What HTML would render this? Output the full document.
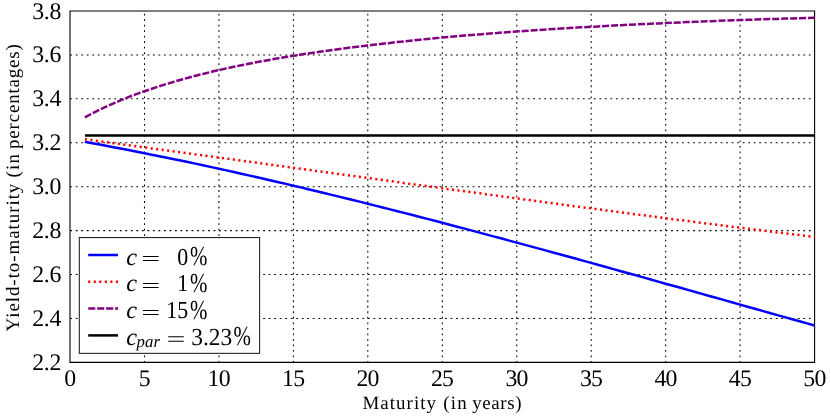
<!DOCTYPE html>
<html><head><meta charset="utf-8"><title>Yield-to-maturity</title>
<style>
html,body{margin:0;padding:0;background:#fff;}
#w{width:831px;height:417px;will-change:transform;}
svg{display:block;text-rendering:geometricPrecision;font-family:"Liberation Serif",serif;}
.t text{font-size:23.8px;letter-spacing:-0.3px;fill:#000;}
.g line{stroke:#000;stroke-width:1.05;stroke-dasharray:1.8 3.712;stroke-dashoffset:0.4;}
.g line.h{stroke-dashoffset:-0.25;}
.lg text{fill:#000;}
</style></head><body><div id="w">
<svg width="831" height="417" viewBox="0 0 831 417">
<rect width="831" height="417" fill="#fff"/>
<g class="g"><line x1="144.5" y1="362.36" x2="144.5" y2="11.0"/><line x1="218.9" y1="362.36" x2="218.9" y2="11.0"/><line x1="293.4" y1="362.36" x2="293.4" y2="11.0"/><line x1="367.8" y1="362.36" x2="367.8" y2="11.0"/><line x1="442.3" y1="362.36" x2="442.3" y2="11.0"/><line x1="516.8" y1="362.36" x2="516.8" y2="11.0"/><line x1="591.2" y1="362.36" x2="591.2" y2="11.0"/><line x1="665.7" y1="362.36" x2="665.7" y2="11.0"/><line x1="740.1" y1="362.36" x2="740.1" y2="11.0"/><line class="h" x1="70.0" y1="318.4" x2="814.6" y2="318.4"/><line class="h" x1="70.0" y1="274.5" x2="814.6" y2="274.5"/><line class="h" x1="70.0" y1="230.6" x2="814.6" y2="230.6"/><line class="h" x1="70.0" y1="186.7" x2="814.6" y2="186.7"/><line class="h" x1="70.0" y1="142.8" x2="814.6" y2="142.8"/><line class="h" x1="70.0" y1="98.8" x2="814.6" y2="98.8"/><line class="h" x1="70.0" y1="54.9" x2="814.6" y2="54.9"/></g>
<g fill="none">
<path d="M70.0,362.36 L70.0,11.0 L814.6,11.0 L814.6,362.36 Z" stroke="#000" stroke-width="1.1" stroke-linejoin="miter"/>
</g>
<g fill="none" stroke-width="2.5">
<path d="M84.9,141.8 L92.3,143.2 L99.8,144.5 L107.2,145.9 L114.7,147.4 L122.1,148.8 L129.6,150.2 L137.0,151.7 L144.5,153.2 L151.9,154.7 L159.3,156.2 L166.8,157.7 L174.2,159.2 L181.7,160.8 L189.1,162.3 L196.6,163.9 L204.0,165.5 L211.5,167.1 L218.9,168.7 L226.4,170.4 L233.8,172.0 L241.2,173.7 L248.7,175.4 L256.1,177.0 L263.6,178.7 L271.0,180.5 L278.5,182.2 L285.9,183.9 L293.4,185.7 L300.8,187.4 L308.2,189.2 L315.7,191.0 L323.1,192.8 L330.6,194.6 L338.0,196.4 L345.5,198.2 L352.9,200.0 L360.4,201.9 L367.8,203.7 L375.3,205.6 L382.7,207.5 L390.1,209.4 L397.6,211.2 L405.0,213.1 L412.5,215.0 L419.9,217.0 L427.4,218.9 L434.8,220.8 L442.3,222.8 L449.7,224.7 L457.1,226.7 L464.6,228.6 L472.0,230.6 L479.5,232.6 L486.9,234.6 L494.4,236.6 L501.8,238.5 L509.3,240.6 L516.7,242.6 L524.1,244.6 L531.6,246.6 L539.0,248.6 L546.5,250.6 L553.9,252.7 L561.4,254.7 L568.8,256.8 L576.3,258.8 L583.7,260.9 L591.2,262.9 L598.6,265.0 L606.0,267.0 L613.5,269.1 L620.9,271.2 L628.4,273.3 L635.8,275.3 L643.3,277.4 L650.7,279.5 L658.2,281.6 L665.6,283.7 L673.0,285.8 L680.5,287.8 L687.9,289.9 L695.4,292.0 L702.8,294.1 L710.3,296.2 L717.7,298.3 L725.2,300.4 L732.6,302.5 L740.1,304.6 L747.5,306.7 L754.9,308.8 L762.4,310.9 L769.8,313.0 L777.3,315.1 L784.7,317.1 L792.2,319.2 L799.6,321.3 L807.1,323.4 L814.5,325.5" stroke="#0000ff"/>
<path d="M84.9,139.3 L92.3,140.3 L99.8,141.3 L107.2,142.3 L114.7,143.3 L122.1,144.3 L129.6,145.3 L137.0,146.4 L144.5,147.4 L151.9,148.4 L159.3,149.4 L166.8,150.4 L174.2,151.4 L181.7,152.4 L189.1,153.5 L196.6,154.5 L204.0,155.5 L211.5,156.5 L218.9,157.5 L226.4,158.6 L233.8,159.6 L241.2,160.6 L248.7,161.6 L256.1,162.6 L263.6,163.7 L271.0,164.7 L278.5,165.7 L285.9,166.7 L293.4,167.8 L300.8,168.8 L308.2,169.8 L315.7,170.9 L323.1,171.9 L330.6,172.9 L338.0,173.9 L345.5,175.0 L352.9,176.0 L360.4,177.0 L367.8,178.0 L375.3,179.1 L382.7,180.1 L390.1,181.1 L397.6,182.1 L405.0,183.2 L412.5,184.2 L419.9,185.2 L427.4,186.2 L434.8,187.2 L442.3,188.3 L449.7,189.3 L457.1,190.3 L464.6,191.3 L472.0,192.3 L479.5,193.3 L486.9,194.4 L494.4,195.4 L501.8,196.4 L509.3,197.4 L516.7,198.4 L524.1,199.4 L531.6,200.4 L539.0,201.4 L546.5,202.4 L553.9,203.4 L561.4,204.4 L568.8,205.4 L576.3,206.4 L583.7,207.4 L591.2,208.4 L598.6,209.4 L606.0,210.4 L613.5,211.4 L620.9,212.3 L628.4,213.3 L635.8,214.3 L643.3,215.3 L650.7,216.2 L658.2,217.2 L665.6,218.2 L673.0,219.2 L680.5,220.1 L687.9,221.1 L695.4,222.0 L702.8,223.0 L710.3,223.9 L717.7,224.9 L725.2,225.8 L732.6,226.8 L740.1,227.7 L747.5,228.7 L754.9,229.6 L762.4,230.5 L769.8,231.5 L777.3,232.4 L784.7,233.3 L792.2,234.2 L799.6,235.1 L807.1,236.1 L814.5,237.0" stroke="#ff0000" stroke-dasharray="2.1 3.43"/>
<path d="M84.9,117.3 L92.3,113.4 L99.8,109.7 L107.2,106.2 L114.7,102.9 L122.1,99.7 L129.6,96.7 L137.0,93.9 L144.5,91.2 L151.9,88.7 L159.3,86.2 L166.8,83.9 L174.2,81.7 L181.7,79.5 L189.1,77.5 L196.6,75.5 L204.0,73.7 L211.5,71.8 L218.9,70.1 L226.4,68.4 L233.8,66.8 L241.2,65.3 L248.7,63.8 L256.1,62.3 L263.6,60.9 L271.0,59.6 L278.5,58.3 L285.9,57.0 L293.4,55.8 L300.8,54.6 L308.2,53.5 L315.7,52.4 L323.1,51.3 L330.6,50.2 L338.0,49.2 L345.5,48.2 L352.9,47.3 L360.4,46.3 L367.8,45.4 L375.3,44.6 L382.7,43.7 L390.1,42.9 L397.6,42.0 L405.0,41.3 L412.5,40.5 L419.9,39.7 L427.4,39.0 L434.8,38.3 L442.3,37.6 L449.7,36.9 L457.1,36.2 L464.6,35.6 L472.0,35.0 L479.5,34.4 L486.9,33.8 L494.4,33.2 L501.8,32.6 L509.3,32.1 L516.7,31.5 L524.1,31.0 L531.6,30.5 L539.0,30.0 L546.5,29.5 L553.9,29.0 L561.4,28.5 L568.8,28.1 L576.3,27.6 L583.7,27.2 L591.2,26.8 L598.6,26.4 L606.0,25.9 L613.5,25.5 L620.9,25.2 L628.4,24.8 L635.8,24.4 L643.3,24.1 L650.7,23.7 L658.2,23.4 L665.6,23.0 L673.0,22.7 L680.5,22.4 L687.9,22.1 L695.4,21.8 L702.8,21.5 L710.3,21.2 L717.7,20.9 L725.2,20.6 L732.6,20.3 L740.1,20.1 L747.5,19.8 L754.9,19.6 L762.4,19.3 L769.8,19.1 L777.3,18.9 L784.7,18.6 L792.2,18.4 L799.6,18.2 L807.1,18.0 L814.5,17.8" stroke="#800080" stroke-dasharray="7.1 1.86"/>
<path d="M84.9,135.5 L814.6,135.5" stroke="#000"/>
</g>
<g class="t"><text x="69.8" y="385.9" text-anchor="middle" style="letter-spacing:-0.8px">0</text><text x="144.3" y="385.9" text-anchor="middle" style="letter-spacing:-0.8px">5</text><text x="218.7" y="385.9" text-anchor="middle" style="letter-spacing:-0.8px">10</text><text x="293.2" y="385.9" text-anchor="middle" style="letter-spacing:-0.8px">15</text><text x="367.6" y="385.9" text-anchor="middle" style="letter-spacing:-0.8px">20</text><text x="442.1" y="385.9" text-anchor="middle" style="letter-spacing:-0.8px">25</text><text x="516.6" y="385.9" text-anchor="middle" style="letter-spacing:-0.8px">30</text><text x="591.0" y="385.9" text-anchor="middle" style="letter-spacing:-0.8px">35</text><text x="665.5" y="385.9" text-anchor="middle" style="letter-spacing:-0.8px">40</text><text x="739.9" y="385.9" text-anchor="middle" style="letter-spacing:-0.8px">45</text><text x="814.4" y="385.9" text-anchor="middle" style="letter-spacing:-0.8px">50</text><text x="61" y="369.9" text-anchor="end">2.2</text><text x="61" y="325.9" text-anchor="end">2.4</text><text x="61" y="282.0" text-anchor="end">2.6</text><text x="61" y="238.1" text-anchor="end">2.8</text><text x="61" y="194.2" text-anchor="end">3.0</text><text x="61" y="150.3" text-anchor="end">3.2</text><text x="61" y="106.3" text-anchor="end">3.4</text><text x="61" y="62.4" text-anchor="end">3.6</text><text x="61" y="18.5" text-anchor="end">3.8</text></g>
<g font-size="18.9"><text x="362.5" y="408.7" textLength="73.43">Maturity</text><text x="443.3" y="408.7" textLength="23.4">(in</text><text x="472.3" y="408.7" textLength="49.21">years)</text></g>
<g font-size="18.9" transform="translate(18.7,0) rotate(-90)"><text x="-331.4" y="0" textLength="147.71">Yield-to-maturity</text><text x="-177.4" y="0" textLength="23.4">(in</text><text x="-149.0" y="0" textLength="104.77">percentages)</text></g>
<g class="lg">
<rect x="79.3" y="237.55" width="180.3" height="115.8" fill="#fff" stroke="#1c1c1c" stroke-width="1.05"/>
<g fill="none" stroke-width="2.5">
<path d="M88.2,255 H118" stroke="#0000ff"/>
<path d="M88.2,281.8 H118" stroke="#ff0000" stroke-dasharray="2.1 3.43"/>
<path d="M88.2,308.4 H118" stroke="#800080" stroke-dasharray="7.1 1.86"/>
<path d="M88.2,335.4 H118" stroke="#000"/>
</g>
<g font-size="24.4"><text x="126.3" y="264.5" font-style="italic">c</text><path d="M143,256.5 H158.6 M143,260.5 H158.6" stroke="#000" stroke-width="1.05" fill="none"/><text transform="translate(177.2,264.5) scale(0.9,1)">0</text><text transform="translate(190.1,265.05) scale(0.855,1.12)">%</text><text x="126.3" y="291.3" font-style="italic">c</text><path d="M143,283.5 H158.6 M143,287.5 H158.6" stroke="#000" stroke-width="1.05" fill="none"/><text transform="translate(177.2,291.3) scale(0.9,1)">1</text><text transform="translate(190.1,291.85) scale(0.855,1.12)">%</text><text x="126.3" y="318.1" font-style="italic">c</text><path d="M143,310.5 H158.6 M143,314.5 H158.6" stroke="#000" stroke-width="1.05" fill="none"/><text transform="translate(166.2,318.1) scale(0.9,1)">15</text><text transform="translate(190.0,318.65) scale(0.855,1.12)">%</text><text x="126.3" y="344.9" font-style="italic">c</text><text x="136.6" y="346.8" font-style="italic" font-size="16.8">par</text><path d="M168.2,336.8 H183.8 M168.2,341.2 H183.8" stroke="#000" stroke-width="1.05" fill="none"/><text transform="translate(191.3,344.9) scale(0.96,1)">3.23</text><text transform="translate(233.4,345.45) scale(0.855,1.12)">%</text></g>
</g>
</svg>
</div></body></html>
